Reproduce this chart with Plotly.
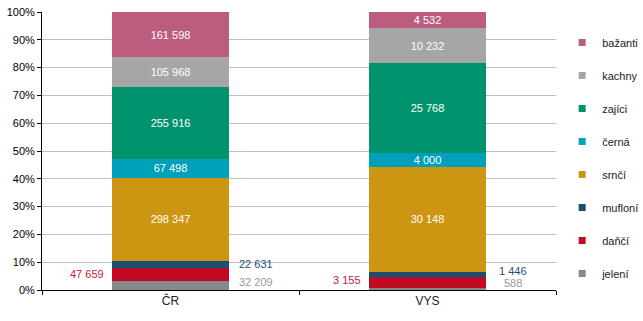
import plotly.graph_objects as go

# values
regions = ["ČR", "VYS"]
species = ["jelení", "daňčí", "mufloní", "srnčí", "černá", "zajíci", "kachny", "bažanti"]
counts = {
    "jelení": [32209, 588],
    "daňčí": [47659, 3155],
    "mufloní": [22631, 1446],
    "srnčí": [298347, 30148],
    "černá": [67498, 4000],
    "zajíci": [255916, 25768],
    "kachny": [105968, 10232],
    "bažanti": [161598, 4532],
}
pct_ticks = list(range(0, 101, 10))
pct_labels = [f"{t}%" for t in pct_ticks]

colors = {
    "jelení": "#87898D",
    "daňčí": "#C00B22",
    "mufloní": "#1B4F6F",
    "srnčí": "#CC9613",
    "černá": "#00A0BA",
    "zajíci": "#00936D",
    "kachny": "#A6A6A9",
    "bažanti": "#BC5C7F",
}
label_colors = {"jelení": "#9A9A9A", "daňčí": "#C8213A", "mufloní": "#1F4E79"}

# small segments get their labels outside the bar
outside = {"daňčí": -1, "mufloní": 1, "jelení": 1}
yshift = {"ČR": {"daňčí": 0, "mufloní": 0, "jelení": -3},
          "VYS": {"daňčí": -2, "mufloní": -3, "jelení": -6}}


def fmt(v):
    return f"{v:,}".replace(",", " ")


totals = [sum(counts[s][i] for s in species) for i in range(len(regions))]
shares = {s: [counts[s][i] / totals[i] * 100 for i in range(len(regions))] for s in species}

fig = go.Figure()
for s in species:
    fig.add_trace(
        go.Bar(
            x=regions,
            y=shares[s],
            name=s,
            marker=dict(color=colors[s], line_width=0),
            text=["" if s in outside else fmt(v) for v in counts[s]],
            textposition="inside",
            insidetextanchor="middle",
            constraintext="none",
            textangle=0,
            textfont=dict(color="white", size=11, family="Liberation Sans, Arial"),
            hoverinfo="skip",
            showlegend=False,
        )
    )

# legend entries with small square markers (top = bažanti)
for s in reversed(species):
    fig.add_trace(
        go.Scatter(
            x=[None],
            y=[None],
            mode="markers",
            name=s,
            legendgroup=s,
            marker=dict(symbol="square", size=7, color=colors[s]),
        )
    )

# outside labels for the thin segments
for i, r in enumerate(regions):
    base = 0
    for s in species:
        mid = base + shares[s][i] / 2
        base += shares[s][i]
        if s not in outside:
            continue
        side = outside[s]
        fig.add_annotation(
            x=r,
            y=mid,
            text=fmt(counts[s][i]),
            showarrow=False,
            xanchor="right" if side < 0 else "center",
            xshift=-65 if side < 0 else 85,
            yshift=-yshift[r][s],
            font=dict(color=label_colors[s], size=11, family="Liberation Sans, Arial"),
        )

fig.update_layout(
    barmode="stack",
    bargap=0.545,
    width=643,
    height=321,
    margin=dict(l=42, r=87, t=12, b=31, autoexpand=False),
    plot_bgcolor="white",
    paper_bgcolor="white",
    font=dict(family="Liberation Sans, Arial", size=11, color="black"),
    legend=dict(
        x=1.012,
        y=0.942,
        xanchor="left",
        yanchor="top",
        traceorder="grouped",
        tracegroupgap=14,
        font=dict(size=11, color="#222"),
        itemwidth=30,
    ),
)
fig.update_yaxes(
    range=[0, 100],
    tickvals=pct_ticks,
    ticktext=pct_labels,
    tickfont=dict(size=11, color="black"),
    showgrid=True,
    gridcolor="#BFBFBF",
    gridwidth=1,
    showline=True,
    linecolor="black",
    linewidth=1,
    ticks="outside",
    ticklen=4,
    tickcolor="black",
    zeroline=False,
    automargin=False,
)
fig.update_xaxes(
    showline=True,
    linecolor="black",
    linewidth=1,
    ticks="outside",
    ticklen=4,
    tickcolor="black",
    tickson="boundaries",
    showgrid=False,
    tickfont=dict(size=12, color="#222"),
    automargin=False,
)

# drop the browser's default 8px body margin so the figure sits at the page corner
fig.write_html(
    "out.html",
    config={"displayModeBar": False},
    post_script="document.body.style.margin='0';document.body.style.overflow='hidden';",
)
